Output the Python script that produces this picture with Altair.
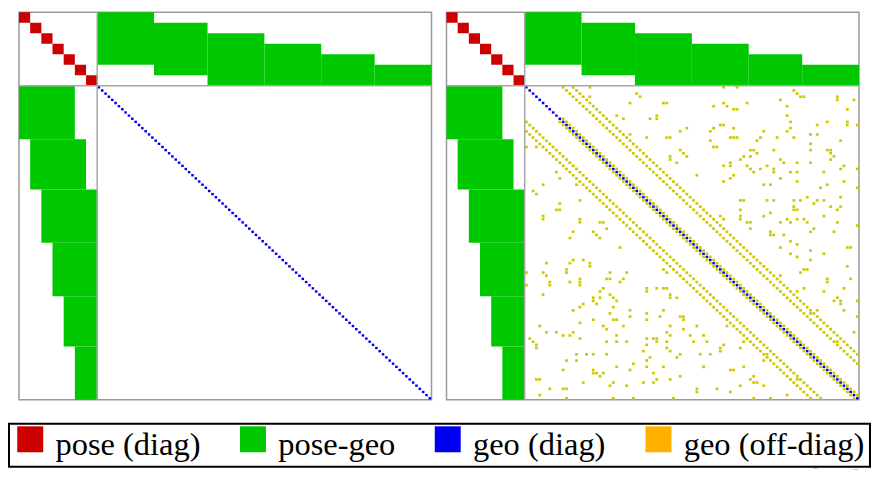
import altair as alt
import pandas as pd

# ---------------- data ----------------
N_POSES = 7
N_GEO = 100
# landmark segments (geo index boundaries) and the poses that observe each segment
SEG_BOUNDS = [0, 17, 33, 50, 67, 83, 100]
SEG_FIRST_POSE = [0, 1, 2, 3, 4, 5]
SEG_LAST_POSE = [4, 5, 6, 6, 6, 6]
# geo-geo off-diagonal bands (offset from diagonal, first row)
BAND_OFFSETS = [11, 14]
BAND_START = [0, 0]
NEAR_DIAG_START = 10
# scattered geo-geo entries (upper triangle: row, col); mirrored below the diagonal
DOT_ROWS = [0, 5, 2, 5, 6, 5, 7, 7, 5, 4, 2, 3, 4, 4, 10, 10, 9, 10, 15, 16, 14, 13,
            16, 13, 12, 13, 16, 20, 19, 16, 16, 11, 13, 15, 15, 11, 11, 12, 20, 22,
            24, 21, 22, 28, 25, 24, 23, 22, 21, 27, 25, 26, 23, 24, 27, 30, 24, 21,
            22, 25, 26, 30, 28, 31, 31, 36, 35, 36, 36, 31, 35, 32, 41, 42, 36, 36,
            39, 42, 43, 45, 41, 40, 43, 43, 42, 38, 39, 42, 45, 41, 46, 44, 47, 47,
            49, 50, 52, 53, 55, 51, 60, 62, 59, 58, 61, 62, 57, 65, 64, 65, 67, 68,
            68, 72, 71, 73, 81, 78,
            3, 3, 9, 5, 16, 23, 20, 14, 17, 19, 12, 6, 16, 16, 25, 29, 0, 0, 20, 22,
            25, 26, 41, 43, 14, 17, 26, 20, 29, 27, 36, 36, 46, 1, 3, 6, 9, 14, 16,
            24, 27, 36, 39, 42, 47, 51, 53, 18, 20, 12, 20, 23, 27, 32, 37, 38, 39,
            43, 46, 54, 58, 64, 68, 69, 71, 3, 7, 12, 17, 26, 30, 38, 43, 51, 61]
DOT_COLS = [19, 31, 33, 42, 56, 59, 62, 63, 66, 76, 81, 83, 93, 98, 37, 39, 27, 29, 31,
            42, 46, 48, 36, 56, 59, 62, 62, 68, 56, 70, 75, 79, 79, 85, 87, 90, 96, 99,
            91, 43, 45, 47, 48, 51, 59, 61, 64, 65, 69, 68, 72, 74, 76, 77, 79, 81, 85,
            91, 92, 95, 99, 59, 62, 71, 73, 82, 84, 87, 89, 90, 94, 99, 58, 59, 64, 65,
            64, 64, 66, 67, 71, 73, 76, 79, 81, 80, 80, 83, 86, 89, 92, 99, 73, 74, 79,
            81, 85, 89, 85, 97, 76, 76, 82, 83, 90, 90, 96, 81, 83, 89, 93, 94, 99, 85,
            87, 99, 93, 98,
            19, 34, 39, 41, 43, 43, 46, 55, 55, 57, 58, 60, 61, 63, 61, 61, 59, 63, 67,
            67, 66, 67, 64, 67, 71, 69, 70, 74, 76, 74, 72, 74, 73, 80, 82, 78, 78, 78,
            80, 81, 81, 80, 81, 78, 77, 76, 79, 85, 85, 87, 90, 91, 89, 88, 86, 91, 93,
            84, 85, 81, 84, 95, 92, 94, 95, 93, 96, 96, 94, 94, 95, 94, 93, 96, 97]

LABELS = ["pose (diag)", "pose-geo", "geo (diag)", "geo (off-diag)"]
COLORS = ["#cc0000", "#00c800", "#0000f0", "#ffb000"]
DOT_COLOR = "#cfc800"
WATERMARK = "CSDN @YMWM_"

# ---------------- layout constants (styles) ----------------
POSE_SPAN = 23.4                # size of the pose block in geo-cell units
PC = POSE_SPAN / N_POSES        # one pose cell
TOTAL = POSE_SPAN + N_GEO
W, H = 413, 388

def geo(i):
    return POSE_SPAN + i

# pose diagonal
pose_rows = []
for p in range(N_POSES):
    pose_rows.append(dict(x=p * PC, x2=(p + 1) * PC, y=p * PC, y2=(p + 1) * PC, kind=LABELS[0]))
# pose-geo blocks
for s in range(len(SEG_BOUNDS) - 1):
    a, b = SEG_BOUNDS[s], SEG_BOUNDS[s + 1]
    p0, p1 = SEG_FIRST_POSE[s], SEG_LAST_POSE[s] + 1
    pose_rows.append(dict(x=geo(a), x2=geo(b), y=p0 * PC, y2=p1 * PC, kind=LABELS[1]))
    pose_rows.append(dict(x=p0 * PC, x2=p1 * PC, y=geo(a), y2=geo(b), kind=LABELS[1]))
# geo diagonal
S = 0.12
diag_rows = []
for i in range(N_GEO):
    diag_rows.append(dict(x=geo(i) + S, x2=geo(i + 1) - S, y=geo(i) + S, y2=geo(i + 1) - S, kind=LABELS[2]))

# off-diagonal entries
pairs = set()
for off, st in zip(BAND_OFFSETS, BAND_START):
    for r in range(st, N_GEO - off):
        pairs.add((r, r + off))
for r in range(NEAR_DIAG_START, N_GEO - 1):
    pairs.add((r, r + 1))
for r, c in zip(DOT_ROWS, DOT_COLS):
    pairs.add((r, c))
off_rows = []
E = 0.08
for r, c in pairs:
    for (a, b) in [(r, c), (c, r)]:
        off_rows.append(dict(x=geo(b) + E, x2=geo(b + 1) - E, y=geo(a) + E, y2=geo(a + 1) - E))

blocks = pd.DataFrame(pose_rows)
diag = pd.DataFrame(diag_rows)
offd = pd.DataFrame(off_rows)

xs = alt.Scale(domain=[0, TOTAL], nice=False, zero=False)
ys = alt.Scale(domain=[0, TOTAL], nice=False, zero=False, reverse=True)
color = alt.Color("kind:N", scale=alt.Scale(domain=LABELS, range=COLORS),
                  legend=alt.Legend(title=None, orient="none", legendX=-10, legendY=412,
                                    direction="horizontal", columns=4,
                                    symbolType="M-1,-1.45H1V0.55H-1Z", symbolSize=676,
                                    symbolStrokeWidth=0, symbolOpacity=1,
                                    labelFont="Liberation Serif", labelFontSize=32.5,
                                    labelColor="black", labelOffset=9, labelLimit=0,
                                    columnPadding=36, padding=5,
                                    strokeColor="black", fillColor="white"))

def rects(df, **enc):
    return alt.Chart(df).mark_rect(strokeWidth=0).encode(
        x=alt.X("x:Q", scale=xs, axis=None), x2="x2:Q",
        y=alt.Y("y:Q", scale=ys, axis=None), y2="y2:Q", **enc)

sep = pd.DataFrame({"v": [POSE_SPAN]})
vrule = alt.Chart(sep).mark_rule(color="#a8a8a8", strokeWidth=1.5).encode(x=alt.X("v:Q", scale=xs, axis=None))
hrule = alt.Chart(sep).mark_rule(color="#a8a8a8", strokeWidth=1.5).encode(y=alt.Y("v:Q", scale=ys, axis=None))

def panel(with_off):
    layers = [rects(blocks, color=color)]
    if with_off:
        layers.append(rects(offd, color=alt.value(DOT_COLOR)))
    layers.append(rects(diag, color=color))
    layers += [vrule, hrule]
    return alt.layer(*layers).properties(width=W, height=H)

wm = alt.Chart(pd.DataFrame({"t": [WATERMARK]})).mark_text(
    align="right", baseline="bottom", fontSize=10, color="#b8b8b8", font="DejaVu Sans"
).encode(x=alt.value(412), y=alt.value(457), text="t:N")

left = panel(False)
right = alt.layer(panel(True), wm)

chart = alt.hconcat(left, right, spacing=11).properties(
    padding={"left": 0, "top": 2, "right": 0, "bottom": 0}
).configure_view(stroke="#999999", strokeWidth=1.5).configure_legend(
    strokeWidth=2
)

chart.save("out.html", embed_options={"renderer": "svg", "actions": False})
